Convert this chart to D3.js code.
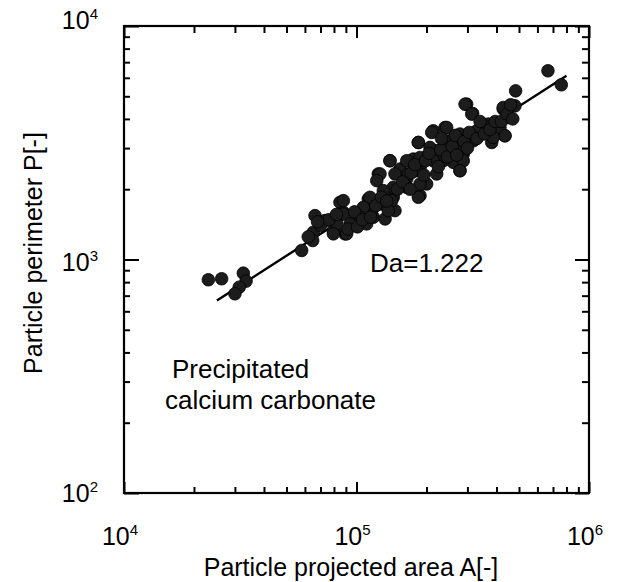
<!DOCTYPE html>
<html><head><meta charset="utf-8">
<script src="https://cdn.jsdelivr.net/npm/d3@7"></script>
<style>
html,body{margin:0;padding:0;background:#fff;}
svg{display:block;font-family:"Liberation Sans",Arial,Helvetica,sans-serif;}
</style></head>
<body>
<svg id="c" width="617" height="582"></svg>
<script>
// ---- data ----
const areaA = [23050,26300,32600,33500,31300,30000,58100,66300,65200,64800,73200,79500,84900,87800,89200,96900,103500,112400,118100,130400,132700,143900,146400,124100,139300,153800,164400,175500,184500,187600,200300,187600,213900,217600,240300,252400,260800,278600,297700,316000,287900,317800,345600,369000,381500,407400,427600,434500,480500,483600,
427600,449800,414000,435500,387300,363100,328900,317900,293000,313000,278600,274100,287900,278600,244300,240300,252400,236100,210600,207000,213900,221300,184500,187600,181600,187600,184500,164400,167100,164400,139300,146400,143900,141700,126200,122200,130400,126200,137000,114300,116200,107000,103500,110600,87800,87800,93800,82200,79500,90700,
70000,76000,82000,92000,98000,101000,106000,115000,121000,128000,135000,150000,158000,170000,172000,178000,195000,198000,205000,225000,230000,232000,246000,258000,266000,270000,290000,300000,305000,330000,340000,355000,375000,395000,420000,445000,460000,470000,68000,62000,
666000,760000];
const perimP = [819,827,874,808,761,713,1093,1542,1308,1206,1468,1330,1758,1593,1288,1443,1517,1817,1517,1730,1492,1847,1619,2325,2649,2441,2213,2693,3171,2479,2106,1877,3559,2923,3675,3225,2606,2401,4626,4220,2830,3331,3619,3802,3171,3675,4406,3388,4550,5276,
4477,4055,3676,3388,3333,3676,3560,3225,4626,4195,3446,3020,2649,2401,3676,3225,2923,2649,3500,3020,2649,2325,3171,2736,2401,2106,1847,2649,2325,2037,2649,2325,2037,1787,2325,2176,1972,1730,1619,1847,1619,1673,1517,1421,1787,1567,1421,1421,1288,1288,
1400,1480,1560,1350,1600,1380,1480,1520,1700,1850,1780,2000,2150,2000,2350,2550,2300,2650,2850,2500,2950,3300,2750,3050,3400,2800,3200,3000,3500,3300,3900,3450,3600,3900,3900,4200,4600,4000,1450,1250,
6430,5600];
const fitA = [25100, 800000];
const fitP = [668, 6120];
const xMajor = [1e4, 1e5, 1e6];
const xExp = ["4", "5", "6"];
const yMajor = [1e2, 1e3, 1e4];
const yExp = ["2", "3", "4"];
const xTitle = "Particle projected area  A[-]";
const yTitle = "Particle perimeter P[-]";
const fitLabel = "Da=1.222";
const sampleLabel = ["Precipitated", "calcium carbonate"];

// ---- drawing ----
const svg = d3.select("#c");
const L = 124, R = 589, T = 26, B = 493;
const x = d3.scaleLog().domain([1e4, 1e6]).range([L, R]);
const y = d3.scaleLog().domain([1e2, 1e4]).range([B, T]);

const minorX = [];
[1e4, 1e5].forEach(d => { for (let k = 2; k <= 9; k++) minorX.push(d * k); });
const minorY = [];
[1e2, 1e3].forEach(d => { for (let k = 2; k <= 9; k++) minorY.push(d * k); });

function styleAxis(g) {
  g.select(".domain").remove();
  g.selectAll("line").attr("stroke", "#000").attr("stroke-width", 2);
  g.selectAll("text").remove();
}
svg.append("g").attr("transform", `translate(0,${B})`)
  .call(d3.axisBottom(x).tickValues(minorX).tickSize(-6)).call(styleAxis);
svg.append("g").attr("transform", `translate(0,${B})`)
  .call(d3.axisBottom(x).tickValues(xMajor).tickSize(-11)).call(styleAxis);
svg.append("g").attr("transform", `translate(0,${T})`)
  .call(d3.axisTop(x).tickValues(minorX).tickSize(-7)).call(styleAxis);
svg.append("g").attr("transform", `translate(0,${T})`)
  .call(d3.axisTop(x).tickValues(xMajor).tickSize(-12)).call(styleAxis);
svg.append("g").attr("transform", `translate(${L},0)`)
  .call(d3.axisLeft(y).tickValues(minorY).tickSize(-6)).call(styleAxis);
svg.append("g").attr("transform", `translate(${L},0)`)
  .call(d3.axisLeft(y).tickValues(yMajor).tickSize(-15)).call(styleAxis);
svg.append("g").attr("transform", `translate(${R},0)`)
  .call(d3.axisRight(y).tickValues(minorY).tickSize(-7)).call(styleAxis);
svg.append("g").attr("transform", `translate(${R},0)`)
  .call(d3.axisRight(y).tickValues(yMajor).tickSize(-14)).call(styleAxis);

svg.append("rect").attr("x", L).attr("y", T).attr("width", R - L).attr("height", B - T)
  .attr("fill", "none").attr("stroke", "#000").attr("stroke-width", 2.2);

svg.append("line")
  .attr("x1", x(fitA[0])).attr("y1", y(fitP[0]))
  .attr("x2", x(fitA[1])).attr("y2", y(fitP[1]))
  .attr("stroke", "#000").attr("stroke-width", 2.4);

svg.append("g").selectAll("circle").data(areaA.map((a, i) => [a, perimP[i]]))
  .join("circle")
  .attr("cx", d => x(d[0])).attr("cy", d => y(d[1])).attr("r", 6.3)
  .attr("fill", "#1c1c1c").attr("stroke", "#000").attr("stroke-width", 0.8);

// tick labels
const fs = 25, sfs = 15;
const lab = svg.append("g").attr("font-size", fs).attr("fill", "#000");
xMajor.forEach((v, i) => {
  const t = lab.append("text").attr("x", x(v) - 4).attr("y", 545).attr("text-anchor", "middle");
  t.append("tspan").text("10");
  t.append("tspan").attr("font-size", sfs).attr("dy", -10).text(xExp[i]);
});
const yBase = [502, 271, 29];
yMajor.forEach((v, i) => {
  const t = lab.append("text").attr("x", 98).attr("y", yBase[i]).attr("text-anchor", "end");
  t.append("tspan").text("10");
  t.append("tspan").attr("font-size", sfs).attr("dy", -10).text(yExp[i]);
});

// titles
svg.append("text").attr("x", 351).attr("y", 576).attr("text-anchor", "middle")
  .attr("font-size", 25).text(xTitle);
svg.append("text").attr("transform", `translate(42,253) rotate(-90)`)
  .attr("text-anchor", "middle").attr("font-size", 25).text(yTitle);

// annotations
svg.append("text").attr("x", 370).attr("y", 272).attr("font-size", 26).text(fitLabel);
svg.append("text").attr("x", 172).attr("y", 378).attr("font-size", 26).text(sampleLabel[0]);
svg.append("text").attr("x", 165).attr("y", 409).attr("font-size", 26).text(sampleLabel[1]);
</script>
</body></html>
